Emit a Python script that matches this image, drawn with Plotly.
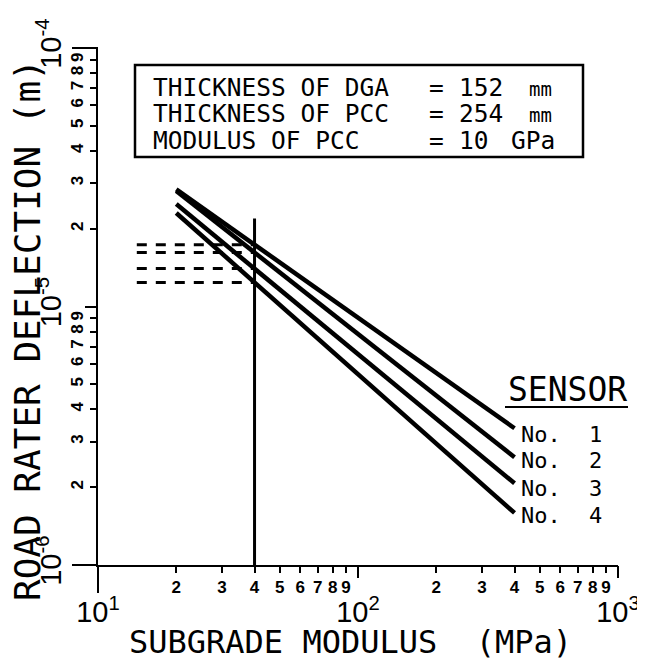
import plotly.graph_objects as go

# ---- data ----
sensors = ["1", "2", "3", "4"]
modulus_pts = [20, 40, 400]                 # MPa (line start, reference line, line end)
defl_s1 = [2.84e-5, 1.735e-5, 3.38e-6]      # m
defl_s2 = [2.80e-5, 1.616e-5, 2.61e-6]
defl_s3 = [2.49e-5, 1.402e-5, 2.07e-6]
defl_s4 = [2.30e-5, 1.238e-5, 1.59e-6]
ref_modulus = 40
dash_start = 14.1
vline_top = 2.19e-5

x_minor_vals = [20, 30, 40, 50, 60, 70, 80, 90, 200, 300, 400, 500, 600, 700, 800, 900]
x_minor_text = ["2", "3", "4", "5", "6", "7", "8", "9"] * 2
x_major_vals = [10, 100, 1000]
x_major_text = ["10<sup>1</sup>", "10<sup>2</sup>", "10<sup>3</sup>"]
y_minor_vals = [2e-6, 3e-6, 4e-6, 5e-6, 6e-6, 7e-6, 8e-6, 9e-6,
                2e-5, 3e-5, 4e-5, 5e-5, 6e-5, 7e-5, 8e-5, 9e-5]
y_minor_text = ["2", "3", "4", "5", "6", "7", "8", "9"] * 2
y_major_vals = [1e-6, 1e-5, 1e-4]
y_major_text = ["10<sup>-6</sup>", "10<sup>-5</sup>", "10<sup>-4</sup>"]

box_labels = ["THICKNESS\u00a0OF\u00a0DGA", "THICKNESS\u00a0OF\u00a0PCC", "MODULUS\u00a0OF\u00a0PCC"]
box_values = ["152", "254", "10"]
box_units = ["mm", "mm", "GPa"]

MONO = "DejaVu Sans Mono"
fig = go.Figure()

all_defl = [defl_s1, defl_s2, defl_s3, defl_s4]
for s, d in zip(sensors, all_defl):
    fig.add_trace(go.Scatter(x=[modulus_pts[0], modulus_pts[-1]], y=[d[0], d[-1]],
                             mode="lines", line=dict(color="black", width=4.5),
                             name="No. " + s, hoverinfo="skip"))
    fig.add_trace(go.Scatter(x=[dash_start, ref_modulus], y=[d[1], d[1]],
                             mode="lines", line=dict(color="black", width=3, dash="10px,9px"),
                             hoverinfo="skip"))
fig.add_trace(go.Scatter(x=[ref_modulus, ref_modulus], y=[1e-6, vline_top], mode="lines",
                         line=dict(color="black", width=3), hoverinfo="skip"))
# invisible trace for overlay axes
fig.add_trace(go.Scatter(x=[10, 1000], y=[1e-6, 1e-4], xaxis="x2", yaxis="y2",
                         mode="markers", marker=dict(opacity=0), hoverinfo="skip"))

# page body has an 8px margin, so the figure is laid out 8px smaller
fig.update_layout(
    width=637, height=652,
    margin=dict(l=90, r=27, t=40, b=95, autoexpand=False),
    paper_bgcolor="white", plot_bgcolor="white",
    showlegend=False,
    xaxis=dict(type="log", range=[1, 3], tickvals=x_minor_vals, ticktext=x_minor_text,
               ticks="outside", ticklen=6, tickwidth=2, tickcolor="black", automargin=False,
               showline=True, linewidth=2, linecolor="black", showgrid=False, zeroline=False,
               tickfont=dict(family="Liberation Sans", size=17, color="black", weight="bold"),
               tickangle=0),
    xaxis2=dict(type="log", range=[1, 3], overlaying="x", side="bottom", anchor="y",
                tickvals=x_major_vals, ticktext=x_major_text, automargin=False,
                ticks="outside", ticklen=12, tickwidth=2, tickcolor="black",
                showline=False, showgrid=False, zeroline=False, ticklabelstandoff=9,
                tickfont=dict(family="Liberation Sans", size=29, color="black"), tickangle=0),
    yaxis=dict(type="log", range=[-6, -4], tickvals=y_minor_vals, ticktext=y_minor_text,
               ticks="outside", ticklen=6, tickwidth=2, tickcolor="black", automargin=False,
               showline=True, linewidth=2, linecolor="black", showgrid=False, zeroline=False,
               tickfont=dict(family="Liberation Sans", size=17, color="black", weight="bold"),
               tickangle=-90),
    yaxis2=dict(type="log", range=[-6, -4], overlaying="y", side="left", anchor="x",
                tickvals=y_major_vals, ticktext=y_major_text, automargin=False,
                ticks="outside", ticklen=12, tickwidth=2, tickcolor="black",
                showline=False, showgrid=False, zeroline=False, ticklabelstandoff=12,
                tickfont=dict(family="Liberation Sans", size=29, color="black"), tickangle=-90),
)

# corner extensions and box (reference pixel -> plot-area fraction)
def px2px(x):
    return (x - 98) / 520.0

def py2py(y):
    return (565 - y) / 517.0

shapes = [
    dict(type="line", xref="paper", yref="paper", x0=px2px(72), x1=0, y0=0, y1=0,
         line=dict(color="black", width=2)),
    dict(type="line", xref="paper", yref="paper", x0=0, x1=0, y0=py2py(593), y1=0,
         line=dict(color="black", width=2)),
    dict(type="line", xref="paper", yref="paper", x0=px2px(72), x1=0, y0=1, y1=1,
         line=dict(color="black", width=2)),
    dict(type="rect", xref="paper", yref="paper", x0=px2px(135), x1=px2px(583),
         y0=py2py(157), y1=py2py(65), line=dict(color="black", width=2.5)),
    dict(type="line", xref="paper", yref="paper", x0=px2px(505), x1=px2px(628),
         y0=py2py(407), y1=py2py(407), line=dict(color="black", width=2)),
]
fig.update_layout(shapes=shapes)

def note(text, x, y, size, xanchor="left", angle=0):
    return dict(text=text, xref="paper", yref="paper", x=px2px(x), y=py2py(y),
                xanchor=xanchor, yanchor="middle", showarrow=False, textangle=angle,
                font=dict(family=MONO, size=size, color="black"))

ann = []
for lab, val, unit, yc in zip(box_labels, box_values, box_units, [87, 113.5, 140]):
    ann.append(note(lab, 151, yc, 24.5))
    ann.append(note("=", 436, yc, 24.5, xanchor="center"))
    ann.append(note(val, 457, yc, 24.5))
    if unit == "mm":
        ann.append(note(unit, 527, yc + 2, 19))
    else:
        ann.append(note(unit, 509, yc, 24.5))
ann.append(note("SENSOR", 506, 389, 33))
for s, yc in zip(sensors, [435, 460, 488, 515]):
    ann.append(note("No.", 519, yc, 22))
    ann.append(note(s, 595, yc, 22, xanchor="center"))
ann.append(note("SUBGRADE\u00a0MODULUS\u00a0\u00a0(MPa)", 350, 642, 32, xanchor="center"))
ann.append(note("ROAD\u00a0RATER\u00a0DEFLECTION\u00a0(m)", 27, 330, 36, xanchor="center", angle=-90))
fig.update_layout(annotations=ann)

fig.write_html("out.html")
